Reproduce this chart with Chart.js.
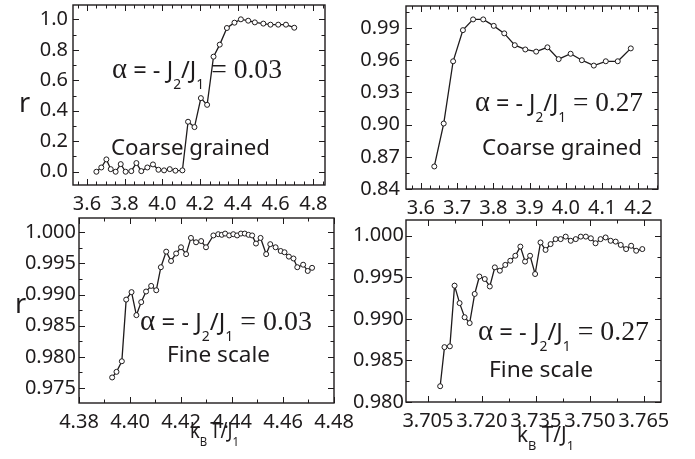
<!DOCTYPE html>
<html>
<head>
<meta charset="utf-8">
<script src="https://cdn.jsdelivr.net/npm/chart.js@4.4.0/dist/chart.umd.min.js"></script>
<style>
  html, body { margin: 0; padding: 0; background: #fff; }
  #wrap { position: relative; width: 695px; height: 459px; }
  #wrap canvas { position: absolute; left: 0; top: 0; }
</style>
</head>
<body>
<div id="wrap">
  <canvas id="coarse03" width="695" height="459"></canvas>
  <canvas id="coarse27" width="695" height="459"></canvas>
  <canvas id="fine03" width="695" height="459"></canvas>
  <canvas id="fine27" width="695" height="459"></canvas>
</div>
<script>
// alpha = 0.03, coarse grained scan
const coarse03T = [3.650, 3.676, 3.703, 3.726, 3.752, 3.779, 3.805, 3.835, 3.862, 3.888, 3.920,
  3.950, 3.979, 4.009, 4.039, 4.069, 4.106, 4.136, 4.170, 4.204, 4.237, 4.271, 4.304, 4.342,
  4.382, 4.416, 4.455, 4.490, 4.535, 4.573, 4.614, 4.655, 4.699];
const coarse03R = [0.000, 0.028, 0.081, 0.017, 0.000, 0.050, 0.000, 0.004, 0.057, 0.004, 0.028,
  0.048, 0.013, 0.009, 0.017, 0.007, 0.009, 0.328, 0.293, 0.483, 0.439, 0.755, 0.834, 0.943,
  0.978, 1.000, 0.991, 0.980, 0.972, 0.965, 0.965, 0.965, 0.945];

// alpha = 0.27, coarse grained scan
const coarse27T = [3.637, 3.663, 3.689, 3.716, 3.744, 3.772, 3.801, 3.830, 3.859, 3.888, 3.918,
  3.949, 3.980, 4.013, 4.044, 4.077, 4.110, 4.143, 4.179];
const coarse27R = [0.861, 0.901, 0.959, 0.988, 0.998, 0.998, 0.992, 0.985, 0.974, 0.970, 0.968,
  0.972, 0.961, 0.966, 0.960, 0.955, 0.959, 0.959, 0.971];

// alpha = 0.03, fine scan
const fine03T = [4.3930, 4.3947, 4.3968, 4.3985, 4.4006, 4.4025, 4.4044, 4.4063, 4.4083, 4.4103,
  4.4121, 4.4142, 4.4161, 4.4181, 4.4200, 4.4220, 4.4239, 4.4259, 4.4279, 4.4298, 4.4327, 4.4346,
  4.4360, 4.4373, 4.4389, 4.4405, 4.4420, 4.4435, 4.4450, 4.4465, 4.4479, 4.4494, 4.4512, 4.4534,
  4.4550, 4.4571, 4.4591, 4.4606, 4.4623, 4.4641, 4.4656, 4.4679, 4.4697, 4.4714];
const fine03R = [0.9767, 0.9776, 0.9793, 0.9892, 0.9904, 0.9867, 0.9888, 0.9905, 0.9914, 0.9907,
  0.9944, 0.9969, 0.9954, 0.9966, 0.9976, 0.9965, 0.9991, 0.9984, 0.9986, 0.9976, 0.9995, 0.9997,
  0.9996, 0.9998, 0.9995, 0.9997, 0.9995, 0.9998, 0.9998, 0.9996, 0.9995, 0.9982, 0.9991, 0.9965,
  0.9981, 0.9976, 0.9970, 0.9968, 0.9961, 0.9958, 0.9944, 0.9948, 0.9938, 0.9943];

// alpha = 0.27, fine scan
const fine27T = [3.7084, 3.7096, 3.7111, 3.7124, 3.7138, 3.7152, 3.7166, 3.7180, 3.7193, 3.7208,
  3.7222, 3.7236, 3.7250, 3.7265, 3.7279, 3.7293, 3.7307, 3.7320, 3.7334, 3.7348, 3.7363, 3.7377,
  3.7391, 3.7405, 3.7419, 3.7433, 3.7447, 3.7461, 3.7475, 3.7489, 3.7503, 3.7516, 3.7530, 3.7544,
  3.7558, 3.7572, 3.7586, 3.7601, 3.7615, 3.7629, 3.7646];
const fine27R = [0.9819, 0.9866, 0.9867, 0.9940, 0.9919, 0.9902, 0.9895, 0.9930, 0.9951, 0.9948,
  0.9939, 0.9962, 0.9958, 0.9965, 0.9970, 0.9976, 0.9987, 0.9969, 0.9976, 0.9954, 0.9992, 0.9983,
  0.9990, 0.9996, 0.9996, 0.9999, 0.9994, 0.9996, 0.9999, 0.9999, 0.9997, 0.9991, 0.9996, 0.9998,
  0.9994, 0.9993, 0.9989, 0.9984, 0.9988, 0.9982, 0.9984];

// tick labels
const coarse03XTicks = [3.6, 3.8, 4.0, 4.2, 4.4, 4.6, 4.8];
const coarse03YTicks = [0.0, 0.2, 0.4, 0.6, 0.8, 1.0];
const coarse27XTicks = [3.6, 3.7, 3.8, 3.9, 4.0, 4.1, 4.2];
const coarse27YTicks = [0.84, 0.87, 0.90, 0.93, 0.96, 0.99];
const fine03XTicks = [4.38, 4.40, 4.42, 4.44, 4.46, 4.48];
const fine03YTicks = [0.975, 0.980, 0.985, 0.990, 0.995, 1.000];
const fine27XTicks = [3.705, 3.720, 3.735, 3.750, 3.765];
const fine27YTicks = [0.980, 0.985, 0.990, 0.995, 1.000];

const INK = '#1e1b1c';
const SANS = '"Noto Sans", "Open Sans", sans-serif';
const SERIF = '"Liberation Serif", "Times New Roman", serif';
const Y_W = 60, X_H = 30;

function formula(val) {
  return [
    { t: 'α', f: SERIF, s: 29 },
    { t: ' = - J', f: SANS, s: 24 },
    { t: '2', f: SANS, s: 14, dy: 11 },
    { t: '/J', f: SANS, s: 24 },
    { t: '1', f: SANS, s: 14, dy: 11 },
    { t: ' = ' + val, f: SERIF, s: 28 }
  ];
}
function plain(text, size) {
  return [{ t: text, f: SANS, s: size }];
}
function tempLabel(gap) {
  return [
    { t: 'k', f: SANS, s: 21 },
    { t: 'B', f: SANS, s: 13, dy: 8 },
    { t: gap + 'T/J', f: SANS, s: 21 },
    { t: '1', f: SANS, s: 13, dy: 8 }
  ];
}

// text runs laid out left to right, optionally squeezed to a given width
function drawRich(ctx, parts, x, y, width) {
  let natural = 0;
  parts.forEach(p => {
    ctx.font = p.s + 'px ' + p.f;
    p.w = ctx.measureText(p.t).width;
    natural += p.w;
  });
  const sx = width ? width / natural : 1;
  ctx.save();
  ctx.translate(x, y);
  ctx.scale(sx, 1);
  ctx.fillStyle = INK;
  ctx.textBaseline = 'alphabetic';
  ctx.textAlign = 'left';
  let cx = 0;
  parts.forEach(p => {
    ctx.font = p.s + 'px ' + p.f;
    ctx.fillText(p.t, cx, p.dy || 0);
    cx += p.w;
  });
  ctx.restore();
}

function minorValues(anchor, step, min, max) {
  const out = [];
  let v = anchor;
  while (v - step >= min - 1e-9) v -= step;
  for (; v <= max + 1e-9; v += step) out.push(v);
  return out;
}

// closed frame with inward ticks on all four sides, plus panel text
const panelDecor = {
  id: 'panelDecor',
  afterDraw(chart, args, opts) {
    const { ctx, chartArea: a, scales: { x, y } } = chart;
    ctx.save();
    ctx.strokeStyle = INK;
    ctx.lineWidth = 1;
    const near = (arr, v) => arr.some(t => Math.abs(t - v) < 1e-7);
    minorValues(opts.xTicks[0], opts.xMinor, x.min, x.max).forEach(v => {
      const px = Math.round(x.getPixelForValue(v)) + 0.5;
      const len = near(opts.xTicks, v) ? 6 : 3.5;
      ctx.beginPath();
      ctx.moveTo(px, a.bottom); ctx.lineTo(px, a.bottom - len);
      ctx.moveTo(px, a.top); ctx.lineTo(px, a.top + len);
      ctx.stroke();
    });
    minorValues(opts.yTicks[0], opts.yMinor, y.min, y.max).forEach(v => {
      const py = Math.round(y.getPixelForValue(v)) + 0.5;
      const len = near(opts.yTicks, v) ? 6 : 3.5;
      ctx.beginPath();
      ctx.moveTo(a.left, py); ctx.lineTo(a.left + len, py);
      ctx.moveTo(a.right, py); ctx.lineTo(a.right - len, py);
      ctx.stroke();
    });
    ctx.lineWidth = 1.4;
    ctx.strokeRect(a.left, a.top, a.right - a.left, a.bottom - a.top);
    opts.notes.forEach(n => drawRich(ctx, n.parts, n.x, n.y, n.w));
    ctx.restore();
  }
};

function makePanel(id, p) {
  const b = p.box;
  const tickFont = { family: SANS, size: 20 };
  new Chart(document.getElementById(id), {
    type: 'scatter',
    data: {
      datasets: [{
        data: p.xs.map((v, i) => ({ x: v, y: p.ys[i] })),
        showLine: true,
        borderColor: INK,
        borderWidth: 1.3,
        tension: 0,
        pointRadius: 2.5,
        pointBorderWidth: 1,
        pointBackgroundColor: '#fff',
        pointBorderColor: INK
      }]
    },
    options: {
      responsive: false,
      animation: false,
      events: [],
      layout: {
        padding: { left: b.left - Y_W, top: b.top, right: 695 - b.right, bottom: 459 - b.bottom - X_H }
      },
      plugins: {
        legend: { display: false },
        tooltip: { enabled: false },
        panelDecor: p
      },
      scales: {
        x: {
          type: 'linear',
          min: p.xMin, max: p.xMax,
          grid: { display: false, drawTicks: false },
          border: { display: false },
          afterBuildTicks: s => { s.ticks = p.xTicks.map(v => ({ value: v })); },
          afterFit: s => {
            s.height = X_H;
            s.paddingLeft = s.paddingRight = s.paddingTop = s.paddingBottom = 0;
          },
          ticks: {
            padding: 7, font: tickFont, color: INK,
            autoSkip: false, maxRotation: 0, minRotation: 0,
            callback: v => v.toFixed(p.xDec)
          }
        },
        y: {
          type: 'linear',
          min: p.yMin, max: p.yMax,
          grid: { display: false, drawTicks: false },
          border: { display: false },
          afterBuildTicks: s => { s.ticks = p.yTicks.map(v => ({ value: v })); },
          afterFit: s => {
            s.width = Y_W;
            s.paddingLeft = s.paddingRight = s.paddingTop = s.paddingBottom = 0;
          },
          ticks: {
            padding: p.yPad, font: tickFont, color: INK, autoSkip: false,
            callback: v => v.toFixed(p.yDec)
          }
        }
      }
    },
    plugins: [panelDecor]
  });
}

makePanel('coarse03', {
  box: { left: 73, top: 5, right: 325, bottom: 185 },
  xs: coarse03T, ys: coarse03R,
  xMin: 3.526, xMax: 4.862, xTicks: coarse03XTicks, xDec: 1, xMinor: 0.05,
  yMin: -0.087, yMax: 1.094, yTicks: coarse03YTicks, yDec: 1, yMinor: 0.1, yPad: 5,
  notes: [
    { parts: formula('0.03'), x: 112, y: 78, w: 170 },
    { parts: plain('Coarse grained', 22), x: 111, y: 155, w: 159 },
    { parts: plain('r', 27), x: 19, y: 112 }
  ]
});

makePanel('coarse27', {
  box: { left: 406, top: 6, right: 658, bottom: 189 },
  xs: coarse27T, ys: coarse27R,
  xMin: 3.559, xMax: 4.254, xTicks: coarse27XTicks, xDec: 1, xMinor: 0.025,
  yMin: 0.84, yMax: 1.0105, yTicks: coarse27YTicks, yDec: 2, yMinor: 0.015, yPad: 6,
  notes: [
    { parts: formula('0.27'), x: 475, y: 111, w: 168 },
    { parts: plain('Coarse grained', 22), x: 482, y: 155, w: 160 }
  ]
});

makePanel('fine03', {
  box: { left: 79, top: 218, right: 334, bottom: 403 },
  xs: fine03T, ys: fine03R,
  xMin: 4.38, xMax: 4.48, xTicks: fine03XTicks, xDec: 2, xMinor: 0.01,
  yMin: 0.9726, yMax: 1.0023, yTicks: fine03YTicks, yDec: 3, yMinor: 0.0025, yPad: 3,
  notes: [
    { parts: formula('0.03'), x: 140, y: 330, w: 172 },
    { parts: plain('Fine scale', 22), x: 167, y: 362, w: 103 },
    { parts: plain('r', 27), x: 15, y: 313 },
    { parts: tempLabel('\u2009'), x: 190, y: 438, w: 49 }
  ]
});

makePanel('fine27', {
  box: { left: 406, top: 220, right: 661, bottom: 402 },
  xs: fine27T, ys: fine27R,
  xMin: 3.6989, xMax: 3.7698, xTicks: fine27XTicks, xDec: 3, xMinor: 0.0075,
  yMin: 0.980, yMax: 1.0019, yTicks: fine27YTicks, yDec: 3, yMinor: 0.0025, yPad: 2,
  notes: [
    { parts: formula('0.27'), x: 478, y: 340, w: 171 },
    { parts: plain('Fine scale', 22), x: 489, y: 377, w: 104 },
    { parts: tempLabel(' '), x: 517, y: 442, w: 57 }
  ]
});
</script>
</body>
</html>
